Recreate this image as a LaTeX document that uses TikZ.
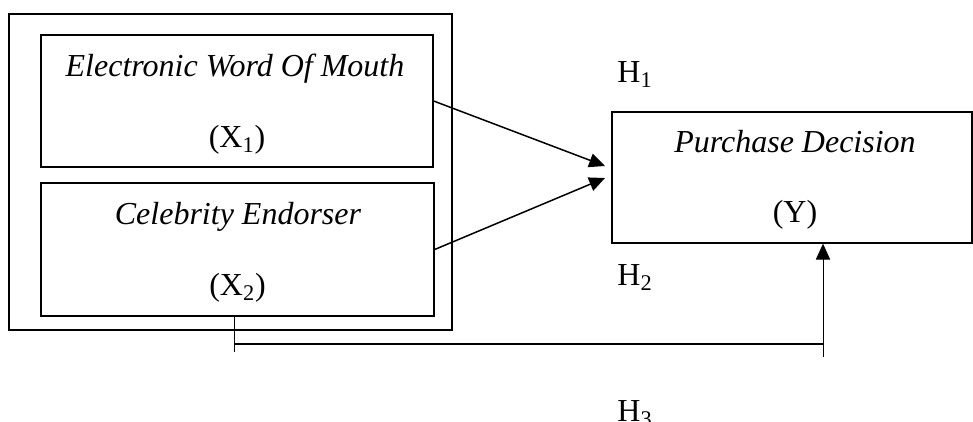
\documentclass[tikz,border=0pt]{standalone}
\usepackage{fontspec}
\setmainfont{Liberation Serif}
\usetikzlibrary{arrows.meta, positioning}

\begin{document}
\begin{tikzpicture}[x=0.6pt, y=-0.6pt, line width=0.8pt,
                    >={Triangle[length=9.5pt, width=8.5pt]},
                    font=\fontsize{19.2}{22}\selectfont]
  \tikzstyle{varbox}=[draw=black, inner sep=0pt]
  \tikzstyle{varname}=[anchor=base, inner sep=0pt]
  \tikzstyle{hyp}=[anchor=base, inner sep=0pt]

  \useasboundingbox (0,0) rectangle (973,421);

  \node[varbox, line width=1pt, minimum width=265.8pt, minimum height=189.6pt] (frame) at (230.5,172) {};
  \node[varbox, minimum width=235.2pt, minimum height=79.2pt] (x1) at (237,101)   {};
  \node[varbox, minimum width=235.8pt, minimum height=79.8pt] (x2) at (237.5,249.5) {};
  \node[varbox, minimum width=216pt,   minimum height=78.6pt] (y)  at (792,177.5) {};

  \node[varname] (x1name) at (235,76)  {\textit{Electronic Word Of Mouth}};
  \node[varname] (x1sym)  at (237,147) {(X\textsubscript{1})};
  \node[varname] (x2name) at (238,224) {\textit{Celebrity Endorser}};
  \node[varname] (x2sym)  at (237.5,295) {(X\textsubscript{2})};
  \node[varname] (yname)  at (795,152) {\textit{Purchase Decision}};
  \node[varname] (ysym)   at (795,222) {(Y)};

  \node[hyp] (h1) at (635,82)  {H\textsubscript{1}};
  \node[hyp] (h2) at (635,285) {H\textsubscript{2}};
  \node[hyp] (h3) at (635,421) {H\textsubscript{3}};

  \coordinate (h1end) at (605,166);
  \coordinate (h2end) at (605,178);
  \coordinate (jl)    at (234,344);
  \coordinate (jr)    at (823,344);
  \coordinate (jrend) at (823,357);

  \path (x1.east) edge[->, line width=0.9pt] (h1end)
        (x2.east) edge[->, line width=0.9pt] (h2end);
  \draw[line width=0.6pt] (jl |- x2.south) -- ++(0,35);
  \draw (jl) -- (jr);
  \draw[->, line width=0.6pt] (jrend) -- (jr |- y.south);
\end{tikzpicture}
\end{document}
